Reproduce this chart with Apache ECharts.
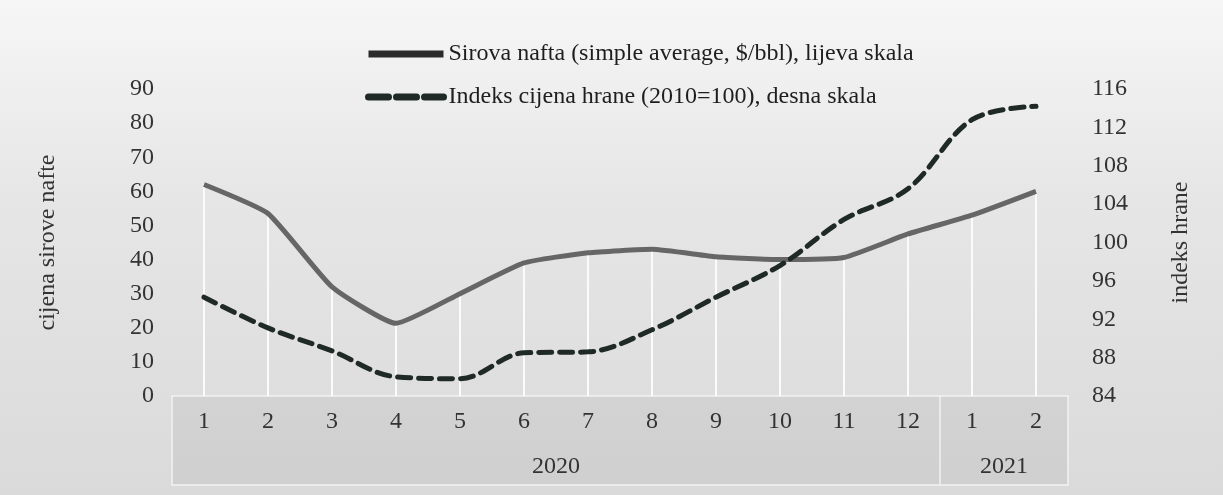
<!DOCTYPE html>
<html>
<head>
<meta charset="utf-8">
<script src="https://cdn.jsdelivr.net/npm/echarts@6/dist/echarts.min.js"></script>
<style>
  html, body { margin: 0; padding: 0; }
  #chart { width: 1223px; height: 495px; }
</style>
</head>
<body>
<div id="chart"></div>
<script>
// mjeseci i godine
var months = ['1', '2', '3', '4', '5', '6', '7', '8', '9', '10', '11', '12', '1', '2'];
var yearNames = ['2020', '2021'];
var yearMonthCounts = [12, 2];

// serije
var oilPrice = [62, 53.5, 32, 21.3, 30, 39, 42, 43, 40.8, 40, 40.6, 47.5, 53, 60];
var foodIndex = [94.3, 91.1, 88.7, 86.0, 85.8, 88.5, 88.6, 90.9, 94.3, 97.6, 102.4, 105.6, 112.8, 114.2];

var oilName = 'Sirova nafta (simple average, $/bbl), lijeva skala';
var foodName = 'Indeks cijena hrane (2010=100), desna skala';

var serif = '"Liberation Serif", "DejaVu Serif", serif';
var fontSize = 24;
var gridLeft = 172, gridRight = 155, gridTop = 89, gridBottom = 99;
var boxHeight = 89;

var myChart = echarts.init(document.getElementById('chart'));

myChart.setOption({
    backgroundColor: {
        type: 'linear', x: 0, y: 0, x2: 0, y2: 1,
        colorStops: [
            {offset: 0, color: '#f6f6f6'},
            {offset: 0.4, color: '#e6e6e6'},
            {offset: 1, color: '#dadada'}
        ]
    },
    animation: false,
    legend: {
        orient: 'vertical',
        left: 360,
        top: 37,
        itemWidth: 75,
        itemHeight: 8,
        itemGap: 19,
        itemStyle: {color: 'rgba(0,0,0,0)', borderColor: 'rgba(0,0,0,0)', borderWidth: 0},
        data: [
            {name: oilName, lineStyle: {color: '#2b2b2b', width: 7, type: 'solid'}},
            {name: foodName, lineStyle: {color: '#1f2a26', width: 7, type: [20, 8], cap: 'round'}}
        ],
        textStyle: {fontFamily: serif, fontSize: fontSize, color: '#1e1e1e'}
    },
    grid: {left: gridLeft, right: gridRight, top: gridTop, bottom: gridBottom},
    xAxis: {
        type: 'category',
        data: months,
        boundaryGap: true,
        axisLine: {show: false},
        axisTick: {show: false},
        axisLabel: {fontFamily: serif, fontSize: fontSize, color: '#333', margin: 14}
    },
    yAxis: [
        {
            type: 'value',
            min: 0, max: 90, interval: 10,
            name: 'cijena sirove nafte',
            nameLocation: 'middle',
            nameRotate: 90,
            nameGap: 112,
            nameTextStyle: {fontFamily: serif, fontSize: fontSize, color: '#333'},
            splitLine: {show: false},
            axisLine: {show: false},
            axisTick: {show: false},
            axisLabel: {fontFamily: serif, fontSize: fontSize, color: '#333', margin: 18}
        },
        {
            type: 'value',
            min: 84, max: 116, interval: 4,
            name: 'indeks hrane',
            nameLocation: 'middle',
            nameRotate: 90,
            nameGap: 101,
            nameTextStyle: {fontFamily: serif, fontSize: fontSize, color: '#333'},
            splitLine: {show: false},
            axisLine: {show: false},
            axisTick: {show: false},
            axisLabel: {fontFamily: serif, fontSize: fontSize, color: '#333', margin: 24}
        }
    ],
    series: [
        {
            // bijele okomite linije od krivulje nafte do osi
            name: 'drop',
            type: 'bar',
            yAxisIndex: 0,
            barWidth: 2,
            data: oilPrice,
            itemStyle: {color: '#fbfbfb'},
            silent: true,
            z: 1
        },
        {
            name: oilName,
            type: 'line',
            yAxisIndex: 0,
            data: oilPrice,
            symbol: 'none',
            smooth: 0.15,
            lineStyle: {color: '#666666', width: 5},
            itemStyle: {color: '#666666'},
            z: 3
        },
        {
            name: foodName,
            type: 'line',
            yAxisIndex: 1,
            data: foodIndex,
            symbol: 'none',
            smooth: 0.35,
            lineStyle: {color: '#1f2a26', width: 5, type: [13, 8], cap: 'round'},
            itemStyle: {color: '#1f2a26'},
            z: 4
        }
    ]
});

// okvir kategorija ispod osi (godine), pozicije iz osi
var H = myChart.getHeight(), W = myChart.getWidth();
var y0 = H - gridBottom, y1 = y0 + boxHeight;
var x0 = gridLeft, x1 = W - gridRight;
var elements = [{
    type: 'rect',
    shape: {x: x0, y: y0, width: x1 - x0, height: boxHeight},
    style: {fill: 'rgba(160,160,160,0.18)', stroke: '#f2f2f2', lineWidth: 1.5},
    z: -1
}];
var start = 0;
for (var k = 0; k < yearNames.length; k++) {
    var end = start + yearMonthCounts[k] - 1;
    var xa = myChart.convertToPixel({xAxisIndex: 0}, start);
    var xb = myChart.convertToPixel({xAxisIndex: 0}, end);
    elements.push({
        type: 'text',
        x: (xa + xb) / 2,
        y: y0 + 71,
        style: {text: yearNames[k], font: fontSize + 'px ' + serif, fill: '#333', align: 'center', verticalAlign: 'middle'}
    });
    if (k > 0) {
        var xp = myChart.convertToPixel({xAxisIndex: 0}, start - 1);
        elements.push({
            type: 'line',
            shape: {x1: (xp + xa) / 2, y1: y0, x2: (xp + xa) / 2, y2: y1},
            style: {stroke: '#f2f2f2', lineWidth: 1.5}
        });
    }
    start = end + 1;
}
myChart.setOption({graphic: elements});
</script>
</body>
</html>
